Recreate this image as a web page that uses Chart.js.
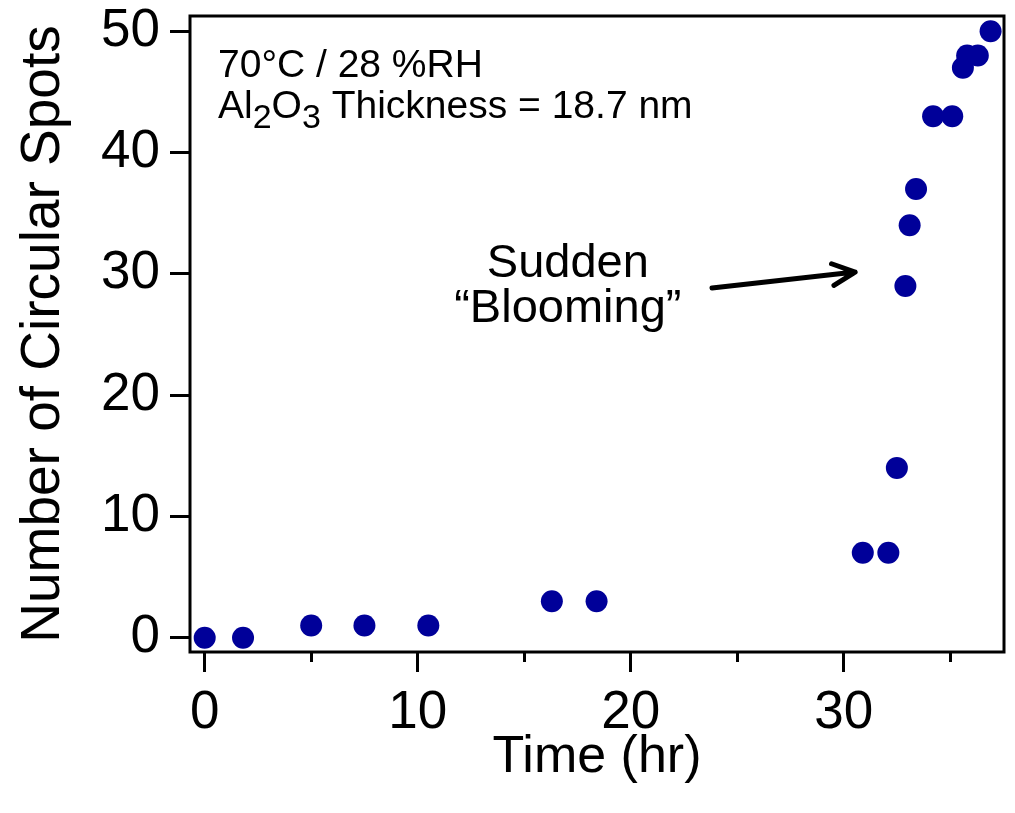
<!DOCTYPE html>
<html>
<head>
<meta charset="utf-8">
<script src="https://cdn.jsdelivr.net/npm/chart.js@4.4.0/dist/chart.umd.min.js"></script>
<style>
  html, body { margin: 0; padding: 0; background: #fff; }
  #wrap { width: 1015px; height: 813px; }
</style>
</head>
<body>
<div id="wrap"><canvas id="spots-chart" width="1015" height="813"></canvas></div>
<script>
// time (hr) and count of circular spots, 70C / 28 %RH, 18.7 nm Al2O3
var hours = [0, 1.8, 5, 7.5, 10.5, 16.3, 18.4, 30.9, 32.1, 32.5, 32.9, 33.1, 33.4, 34.2, 35.1, 35.6, 35.8, 36.3, 36.9];
var spots = [0, 0, 1, 1, 1, 3, 3, 7, 7, 14, 29, 34, 37, 43, 43, 47, 48, 48, 50];
var xTicks = [0, 10, 20, 30];
var xMinorTicks = [5, 15, 25, 35];
var yTicks = [0, 10, 20, 30, 40, 50];

var FONT = "'Liberation Sans', Arial, Helvetica, sans-serif";

var points = hours.map(function(h, i) { return {x: h, y: spots[i]}; });

// keep the edge labels from pushing the plot area inwards
function noEdgePadding(scale) {
  scale.paddingTop = 0;
  scale.paddingBottom = 0;
  scale.paddingLeft = 0;
  scale.paddingRight = 0;
}

// box around the plot area
var framePlugin = {
  id: 'frame',
  afterDraw: function(chart) {
    var a = chart.chartArea, ctx = chart.ctx;
    ctx.save();
    ctx.strokeStyle = '#000';
    ctx.lineWidth = 3;
    ctx.strokeRect(a.left, a.top, a.right - a.left, a.bottom - a.top);
    ctx.restore();
  }
};

// inset conditions text and the "blooming" arrow
var notesPlugin = {
  id: 'notes',
  afterDatasetsDraw: function(chart) {
    var ctx = chart.ctx, a = chart.chartArea;
    var xs = chart.scales.x, ys = chart.scales.y;
    ctx.save();
    ctx.fillStyle = '#000';
    ctx.textBaseline = 'alphabetic';

    // conditions, top left
    var tx = a.left + 28;
    ctx.textAlign = 'left';
    ctx.font = '39px ' + FONT;
    ctx.fillText('70°C / 28 %RH', tx, a.top + 61);
    var base = a.top + 102;
    var parts = [['Al', 0], ['2', 1], ['O', 0], ['3', 1], [' Thickness = 18.7 nm', 0]];
    parts.forEach(function(p) {
      ctx.font = (p[1] ? '34px ' : '39px ') + FONT;
      ctx.fillText(p[0], tx, base + (p[1] ? 10 : 0));
      tx += ctx.measureText(p[0]).width;
    });

    // annotation text
    ctx.textAlign = 'center';
    ctx.font = '47px ' + FONT;
    var cx = xs.getPixelForValue(17.05);
    ctx.fillText('Sudden', cx, ys.getPixelForValue(29.76));
    ctx.fillText('\u201CBlooming\u201D', cx, ys.getPixelForValue(26.07));

    // arrow
    var x1 = xs.getPixelForValue(23.82), y1 = ys.getPixelForValue(28.83);
    var x2 = xs.getPixelForValue(30.54), y2 = ys.getPixelForValue(30.15);
    var ang = Math.atan2(y2 - y1, x2 - x1);
    var head = 25, spread = Math.PI / 7;
    ctx.strokeStyle = '#000';
    ctx.lineWidth = 5;
    ctx.lineCap = 'round';
    ctx.lineJoin = 'round';
    ctx.beginPath();
    ctx.moveTo(x1, y1);
    ctx.lineTo(x2, y2);
    ctx.moveTo(x2 - head * Math.cos(ang - spread), y2 - head * Math.sin(ang - spread));
    ctx.lineTo(x2, y2);
    ctx.lineTo(x2 - head * Math.cos(ang + spread), y2 - head * Math.sin(ang + spread));
    ctx.stroke();
    ctx.restore();
  }
};

var spotsConfig = {
  type: 'scatter',
  data: {
    datasets: [{
      label: 'Circular spots',
      data: points,
      xAxisID: 'x',
      yAxisID: 'y',
      backgroundColor: '#000099',
      borderColor: '#000099',
      borderWidth: 0,
      pointRadius: 11,
      pointHoverRadius: 11,
      clip: false
    }]
  },
  options: {
    responsive: false,
    animation: false,
    devicePixelRatio: 1,
    layout: { padding: { top: 16, right: 9, left: 0, bottom: 0 } },
    plugins: {
      legend: { display: false },
      title: { display: false },
      tooltip: { enabled: false }
    },
    scales: {
      x: {
        type: 'linear',
        position: 'bottom',
        weight: 1,
        min: -0.69,
        max: 37.53,
        afterBuildTicks: function(scale) {
          scale.ticks = xTicks.map(function(v) { return {value: v}; });
        },
        afterFit: function(scale) { scale.height = 161; noEdgePadding(scale); },
        border: { display: false },
        grid: {
          drawOnChartArea: false,
          drawTicks: true,
          tickLength: 20,
          tickWidth: 3,
          tickColor: '#000'
        },
        ticks: {
          color: '#000',
          padding: 10,
          maxRotation: 0,
          font: { family: FONT, size: 53 }
        },
        title: {
          display: true,
          text: 'Time (hr)',
          color: '#000',
          padding: { top: 0, bottom: 24 },
          font: { family: FONT, size: 52 }
        }
      },
      xMinor: {
        type: 'linear',
        position: 'bottom',
        weight: 0,
        min: -0.69,
        max: 37.53,
        afterBuildTicks: function(scale) {
          scale.ticks = xMinorTicks.map(function(v) { return {value: v}; });
        },
        afterFit: function(scale) { scale.height = 0; noEdgePadding(scale); },
        border: { display: false },
        grid: {
          drawOnChartArea: false,
          drawTicks: true,
          tickLength: 10,
          tickWidth: 3,
          tickColor: '#000'
        },
        ticks: { display: false }
      },
      y: {
        type: 'linear',
        position: 'left',
        min: -1.18,
        max: 51.26,
        afterBuildTicks: function(scale) {
          scale.ticks = yTicks.map(function(v) { return {value: v}; });
        },
        afterFit: function(scale) { scale.width = 190; noEdgePadding(scale); },
        border: { display: false },
        grid: {
          drawOnChartArea: false,
          drawTicks: true,
          tickLength: 20,
          tickWidth: 3,
          tickColor: '#000'
        },
        ticks: {
          color: '#000',
          padding: 10,
          font: { family: FONT, size: 53 }
        },
        title: {
          display: true,
          text: 'Number of Circular Spots',
          color: '#000',
          padding: { top: 11, bottom: 0 },
          font: { family: FONT, size: 55 }
        }
      }
    }
  },
  plugins: [framePlugin, notesPlugin]
};

window.onload = function() {
  var ctx = document.getElementById('spots-chart').getContext('2d');
  window.spotsChart = new Chart(ctx, spotsConfig);
};
</script>
</body>
</html>
